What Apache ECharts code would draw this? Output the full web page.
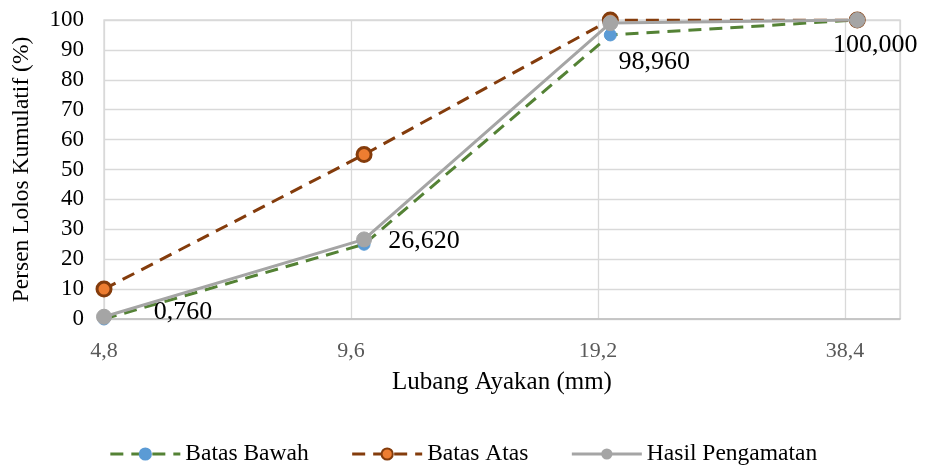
<!DOCTYPE html>
<html>
<head>
<meta charset="utf-8">
<title>Gradasi Agregat Kasar</title>
<script src="https://cdn.jsdelivr.net/npm/echarts@6/dist/echarts.min.js"></script>
<style>
  html, body { margin: 0; padding: 0; background: #fff; }
  #chart { width: 926px; height: 466px; }
</style>
</head>
<body>
<div id="chart"></div>
<script>
// Sieve openings (mm) shown as tick labels, one per tick on the index scale
const tickLabels = ['4,8', '9,6', '19,2', '38,4'];
// Position of each sieve reading along the index scale
const sievePosition = [0, 1.053, 2.05, 3.05];

// Cumulative percent passing
const batasBawah = [0, 25, 95, 100];
const batasAtas = [10, 55, 100, 100];
const hasilPengamatan = [0.76, 26.62, 98.96, 100];

const FONT = '"Liberation Serif", "Times New Roman", serif';

function pairs(values) {
  return values.map((v, i) => [sievePosition[i], v]);
}

// Offsets of the value labels on the measured series
const labelOffsets = [[79, -5], [60, 2], [44, 39], [18, 25]];

const chart = echarts.init(document.getElementById('chart'));
chart.setOption({
  animation: false,
  backgroundColor: '#ffffff',
  grid: {
    left: 104, right: 26, top: 20, bottom: 147,
    show: true, borderColor: '#d9d9d9', borderWidth: 1.3
  },
  xAxis: {
    type: 'value',
    min: 0, max: 3.223, interval: 1,
    name: 'Lubang Ayakan (mm)',
    nameLocation: 'middle',
    nameGap: 51,
    nameTextStyle: { fontFamily: FONT, fontSize: 25, color: '#000' },
    axisLine: { show: true, lineStyle: { color: '#bfbfbf', width: 1.5 } },
    axisTick: { show: false },
    axisLabel: {
      margin: 21, fontFamily: FONT, fontSize: 22, color: '#595959',
      showMaxLabel: false,
      formatter: v => tickLabels[Math.round(v)] ?? ''
    },
    splitLine: { show: true, lineStyle: { color: '#d9d9d9', width: 1.3 } }
  },
  yAxis: {
    type: 'value',
    min: 0, max: 100, interval: 10,
    name: 'Persen Lolos Kumulatif (%)',
    nameLocation: 'middle',
    nameGap: 70,
    nameTextStyle: { fontFamily: FONT, fontSize: 23.5, color: '#000' },
    axisLine: { show: false },
    axisTick: { show: false },
    axisLabel: { margin: 20, fontFamily: FONT, fontSize: 23, color: '#000' },
    splitLine: { show: true, lineStyle: { color: '#d9d9d9', width: 1.3 } }
  },
  legend: {
    top: 437,
    left: 'center',
    itemWidth: 70,
    itemHeight: 14,
    itemGap: 42,
    lineStyle: { width: 3 },
    textStyle: { fontFamily: FONT, fontSize: 23.5, color: '#000' },
    data: ['Batas Bawah', 'Batas Atas', 'Hasil Pengamatan']
  },
  series: [
    {
      name: 'Batas Bawah',
      type: 'line',
      data: pairs(batasBawah),
      symbol: 'circle',
      symbolSize: 12,
      lineStyle: { color: '#548235', width: 3, type: [13, 8] },
      itemStyle: { color: '#5b9bd5', borderColor: '#5b9bd5', borderWidth: 1 },
      z: 2
    },
    {
      name: 'Batas Atas',
      type: 'line',
      data: pairs(batasAtas),
      symbol: 'circle',
      symbolSize: 14,
      lineStyle: { color: '#843c0c', width: 3, type: [13, 8] },
      itemStyle: { color: '#ed7d31', borderColor: '#843c0c', borderWidth: 3 },
      z: 3
    },
    {
      name: 'Hasil Pengamatan',
      type: 'line',
      data: pairs(hasilPengamatan).map((p, i) => ({
        value: p,
        label: { offset: labelOffsets[i] }
      })),
      symbol: 'circle',
      symbolSize: 15,
      lineStyle: { color: '#a5a5a5', width: 3 },
      itemStyle: { color: '#a5a5a5', borderColor: '#a5a5a5' },
      label: {
        show: true,
        position: 'inside',
        fontFamily: FONT,
        fontSize: 26,
        color: '#000',
        formatter: p => p.value[1].toFixed(3).replace('.', ',')
      },
      z: 4
    }
  ]
});
</script>
</body>
</html>
